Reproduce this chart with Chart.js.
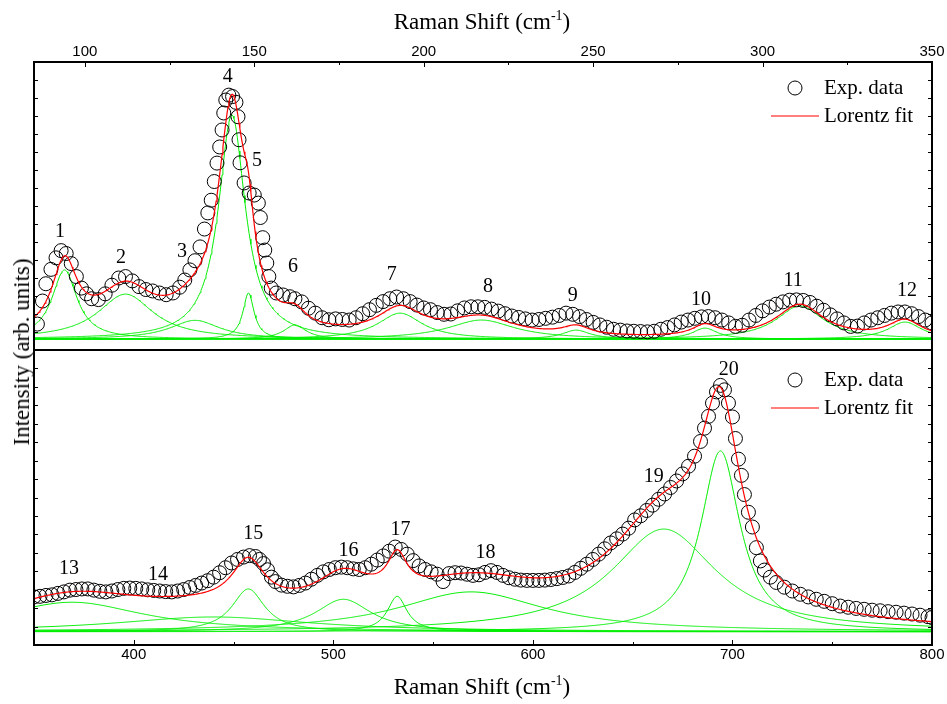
<!DOCTYPE html>
<html>
<head>
<meta charset="utf-8">
<script src="https://cdn.jsdelivr.net/npm/chart.js@4.4.1/dist/chart.umd.min.js"></script>
<style>
  body { margin: 0; background: #fff; }
  #wrap { position: relative; width: 947px; height: 704px; overflow: hidden; font-family: "Liberation Serif", "Times New Roman", serif; color: #000; }
  canvas { position: absolute; left: 0; }
  #topChart { top: 0; }
  #bottomChart { top: 340px; }
  .axis-title { position: absolute; font-size: 23px; white-space: nowrap; transform: translate(-50%, -50%); }
  .axis-title sup { font-size: 14px; vertical-align: 9px; line-height: 0; }
  #yTitle { transform: translate(-50%, -50%) rotate(-90deg); }
</style>
</head>
<body>
<div id="wrap">
  <canvas id="topChart" width="947" height="352"></canvas>
  <canvas id="bottomChart" width="947" height="364"></canvas>
  <div class="axis-title" style="left:482px; top:22px;">Raman Shift (cm<sup>-1</sup>)</div>
  <div class="axis-title" style="left:482px; top:687px;">Raman Shift (cm<sup>-1</sup>)</div>
  <div class="axis-title" id="yTitle" style="left:22px; top:352px;">Intensity (arb. units)</div>
</div>
<script>
// ---- measured spectrum, 85-350 cm-1 ----
const topShift = [86, 87.5, 88.5, 90, 91.5, 93, 94.5, 96, 97.5, 99, 100.5, 102, 104, 106, 108, 110, 112, 114, 116, 118,
  120, 122, 124, 126, 128, 129.5, 131, 132.5, 134, 135.3, 136.3, 137.3, 138.2, 139, 139.8, 140.5, 141, 141.6, 142.5, 143.6,
  144.6, 145.2, 145.5, 145.8, 147, 148.5, 150, 151.2, 151.8, 152.5, 153.1, 153.7, 154.3, 155, 156.5, 158.5, 160.5, 162, 164, 166,
  168, 170, 172, 174, 176, 178, 180, 182, 184, 186, 188, 190, 192, 194, 196, 198, 200, 202, 204, 206,
  208, 210, 212, 214, 216, 218, 220, 222, 224, 226, 228, 230, 232, 234, 236, 238, 240, 242, 244, 246,
  248, 250, 252, 254, 256, 258, 260, 262, 264, 266, 268, 270, 272, 274, 276, 278, 280, 282, 284, 286,
  288, 290, 292, 294, 296, 298, 300, 302, 304, 306, 308, 310, 312, 314, 316, 318, 320, 322, 324, 326,
  328, 330, 332, 334, 336, 338, 340, 342, 344, 346, 348, 350];
const topIntensity = [9, 17, 23, 28, 32, 34.5, 33.5, 30, 25.5, 21.5, 19.5, 17.8, 17.5, 19.5, 22.5, 25, 25.5, 24, 22, 21,
  20.5, 19.8, 19.2, 19.8, 21.8, 24.3, 27.8, 31, 35.8, 42, 47.6, 52, 58.5, 64.9, 70.5, 76.4, 82.3, 86.8, 88.5, 88,
  86, 81, 73, 65, 58, 54.5, 53.8, 51, 46, 39, 34.7, 30.2, 25.5, 21.5, 19.8, 19.1, 18.5, 17.8, 16.7, 14.5,
  12.8, 11.2, 10.5, 10.8, 10.6, 10.4, 11.2, 12.6, 14, 15.5, 16.8, 17.8, 18.4, 17.8, 16.8, 15.6, 14.6, 14, 13, 12.4,
  12.5, 13.6, 14.6, 15, 15, 14.8, 14.2, 13.5, 12.6, 11.8, 11.3, 10.8, 10.4, 10.6, 11, 11.4, 12, 12.8, 12.4, 11.6,
  10.6, 9.6, 8.7, 7.9, 7.2, 6.9, 6.6, 6.5, 6.4, 6.3, 6.5, 7.2, 7.8, 8.7, 9.7, 10.4, 11, 11.5, 11.6, 11.2,
  10.4, 9.4, 8.2, 8.6, 10.4, 12, 13.6, 14.9, 15.9, 16.7, 17.3, 17.4, 17.2, 16.5, 15.2, 13.8, 12.2, 10.8, 9.4, 8.2,
  8.3, 9.4, 10.4, 11.2, 12, 12.8, 13.2, 13.2, 12.6, 11.6, 10.4, 9.4];

// ---- measured spectrum, 350-800 cm-1 ----
const bottomShift = [350, 353, 356, 359, 362, 365, 368, 371, 374, 377, 380, 383, 386, 389, 392, 395, 398, 401, 404, 407,
  410, 413, 416, 419, 422, 425, 428, 431, 434, 437, 440, 443, 446, 449, 452, 455, 458, 461, 463, 465,
  467, 469, 471, 474, 477, 480, 483, 486, 489, 492, 495, 498, 501, 504, 507, 510, 513, 516, 519, 522,
  525, 528, 531, 534, 537, 540, 543, 546, 549, 552, 555, 558, 561, 564, 567, 570, 573, 576, 579, 582,
  585, 588, 591, 594, 597, 600, 603, 606, 609, 612, 615, 618, 621, 624, 627, 630, 633, 636, 639, 642,
  645, 648, 651, 654, 657, 660, 663, 666, 669, 672, 675, 678, 681, 684, 686, 688, 690, 692, 694, 696,
  698, 700, 701.5, 703, 704.5, 706, 708, 710, 712, 714, 716, 719, 722, 726, 730, 734, 738, 742, 746, 750,
  754, 758, 762, 766, 770, 774, 778, 782, 786, 790, 794, 798, 800];
const bottomIntensity = [16.3, 16.5, 16.8, 17, 17.5, 18, 18.6, 18.8, 19, 19, 18.6, 18.2, 18, 18.3, 18.8, 19.2, 19.3, 19.2, 19, 18.7,
  18.5, 18.3, 18.1, 18, 18.3, 18.8, 19.5, 20.2, 21, 21.8, 23, 24.5, 26.2, 27.8, 29, 29.8, 30.3, 30, 29, 27.6,
  25.5, 23, 21.5, 20.3, 19.9, 19.7, 20.2, 21, 22.3, 23.6, 24.8, 25.6, 26.2, 26.4, 26.2, 25.8, 25.6, 26.2, 27.4, 28.8,
  30.2, 31.8, 33.2, 32.4, 30.8, 28.6, 26.8, 25.6, 24.8, 24, 21.5, 24.2, 24.5, 24.4, 24, 23.6, 23.8, 24.6, 25.2, 24.6,
  23.6, 22.8, 22.3, 22, 21.9, 21.9, 21.9, 22, 22.2, 22.5, 22.9, 23.4, 24.6, 26, 27.4, 29, 30.8, 32.6, 34.6, 36,
  37.6, 39.6, 42.4, 43.8, 45.6, 47.4, 49.4, 51.2, 53.4, 55.6, 58, 60.6, 64, 69, 73.5, 77.5, 82, 85.8, 88, 86.5,
  82, 77.3, 70, 63, 57.5, 51, 45, 40, 33, 28.5, 25.4, 23, 21.2, 19.6, 18.3, 17.2, 16.3, 15.5, 14.8, 14,
  13.2, 12.8, 12.4, 12.1, 11.8, 11.6, 11.3, 11.1, 10.8, 10.5, 10.1, 9.6, 9.3];

// ---- Lorentz components: centre (cm-1), FWHM (cm-1), height ----
const topPeakCenter = [94, 112, 132.5, 143.4, 148.3, 162, 193, 217, 245, 283, 311, 342];
const topPeakWidth  = [9, 20, 18, 9.6, 4, 8, 16, 24, 10, 9, 17, 12];
const topPeakHeight = [24, 15.6, 6.5, 77.8, 16, 4.9, 9, 6.6, 3.1, 3.8, 11.5, 5.9];
const topBaseline = 3.8;

const bottomPeakCenter = [369, 440, 457.4, 505, 532, 569, 665.6, 694];
const bottomPeakWidth  = [88, 120, 20, 34, 12, 90, 64, 24];
const bottomPeakHeight = [10, 5, 14.5, 11, 12, 13.5, 34.8, 61.3];
const bottomBaseline = 4.5;

// ---- peak numbers ----
const topPeakLabels = ['1', '2', '3', '4', '5', '6', '7', '8', '9', '10', '11', '12'];
const topLabelShift = [92.7, 110.7, 128.7, 142.2, 150.8, 161.4, 190.6, 219, 244, 281.8, 309, 342.6];
const topLabelLevel = [41, 32, 34, 94.8, 65.6, 28.8, 26, 21.9, 18.8, 17.4, 24, 20.5];
const bottomPeakLabels = ['13', '14', '15', '16', '17', '18', '19', '20'];
const bottomLabelShift = [367.6, 412.2, 459.9, 507.6, 533.6, 576.3, 660.6, 698.2];
const bottomLabelLevel = [25.8, 23.7, 37.6, 31.9, 39, 31.2, 57, 93.2];

function lorentz(x, c, fwhm, h) {
  const d = (x - c) / (fwhm / 2);
  return h / (1 + d * d);
}

function buildPanel(shift, intensity, centers, widths, heights, base, from, to, step) {
  const grid = [];
  for (let x = from; x <= to + 1e-9; x += step) grid.push(+x.toFixed(3));
  const parts = centers.map((c, i) => grid.map(x => ({ x, y: base + lorentz(x, c, widths[i], heights[i]) })));
  const fit = grid.map(x => ({
    x, y: base + centers.reduce((s, c, i) => s + lorentz(x, c, widths[i], heights[i]), 0)
  }));
  const exp = shift.map((x, i) => ({ x, y: intensity[i] }));
  const datasets = [
    { label: 'Lorentz fit', data: fit, showLine: true, borderColor: '#ff0000', borderWidth: 1.2, pointRadius: 0, clip: 0 },
    { label: 'Exp. data', data: exp, showLine: false, borderColor: '#000', backgroundColor: 'rgba(0,0,0,0)', borderWidth: 1, pointRadius: 7, clip: 0 }
  ];
  parts.forEach(p => datasets.push({ data: p, showLine: true, borderColor: '#00ee00', borderWidth: 1, pointRadius: 0, clip: 0 }));
  return datasets;
}

// box around the plot, inward tick marks, legend and peak numbers
const decorations = {
  id: 'decorations',
  afterDatasetsDraw(chart, args, o) {
    const { ctx, chartArea: a } = chart;
    const xs = chart.scales.x, ys = chart.scales.y;
    ctx.save();
    ctx.strokeStyle = '#000';
    ctx.lineWidth = 1;
    xs.ticks.forEach(t => {
      const px = Math.round(xs.getPixelForValue(t.value)) + 0.5;
      const len = t.label ? 5 : 3;
      ctx.beginPath();
      if (o.xTop) { ctx.moveTo(px, a.top); ctx.lineTo(px, a.top + len); }
      else { ctx.moveTo(px, a.bottom); ctx.lineTo(px, a.bottom - len); }
      ctx.stroke();
    });
    ys.ticks.forEach(t => {
      if (t.value <= ys.min || t.value >= ys.max) return;
      const py = Math.round(ys.getPixelForValue(t.value)) + 0.5;
      ctx.beginPath();
      ctx.moveTo(a.left, py); ctx.lineTo(a.left + 4, py);
      ctx.moveTo(a.right, py); ctx.lineTo(a.right - 4, py);
      ctx.stroke();
    });
    ctx.lineWidth = 2;
    ctx.strokeRect(a.left, a.top, a.width, a.height);

    // legend
    const lx = a.right, ly = a.top;
    ctx.lineWidth = 1;
    ctx.beginPath();
    ctx.arc(lx - 137, ly + o.legendY, 7, 0, Math.PI * 2);
    ctx.stroke();
    ctx.strokeStyle = '#ff0000';
    ctx.lineWidth = 1.2;
    ctx.beginPath();
    ctx.moveTo(lx - 161, ly + o.legendY + 28);
    ctx.lineTo(lx - 113, ly + o.legendY + 28);
    ctx.stroke();
    ctx.fillStyle = '#000';
    ctx.font = '21px "Liberation Serif", "Times New Roman", serif';
    ctx.textAlign = 'left';
    ctx.textBaseline = 'middle';
    ctx.fillText('Exp. data', lx - 108, ly + o.legendY);
    ctx.fillText('Lorentz fit', lx - 108, ly + o.legendY + 28);

    // peak numbers
    ctx.font = '20px "Liberation Serif", "Times New Roman", serif';
    ctx.textAlign = 'center';
    o.labels.forEach((s, i) => {
      ctx.fillText(s, xs.getPixelForValue(o.labelShift[i]), ys.getPixelForValue(o.labelLevel[i]));
    });
    ctx.restore();
  }
};

function panelOptions(p) {
  return {
    responsive: false,
    animation: false,
    events: [],
    layout: { autoPadding: false, padding: p.padding },
    plugins: {
      legend: { display: false },
      tooltip: { enabled: false },
      decorations: p.deco
    },
    scales: {
      x: {
        type: 'linear', position: p.xPos, min: p.min, max: p.max,
        grid: { display: false, drawTicks: false },
        border: { display: false },
        ticks: {
          stepSize: p.step, includeBounds: false, autoSkip: false, maxRotation: 0, padding: 1,
          color: '#000', font: { family: '"Liberation Sans", Arial, sans-serif', size: 15 },
          callback: v => (v % p.labelStep === 0 ? String(v) : '')
        },
        afterFit: s => { s.height = p.xHeight; }
      },
      y: {
        type: 'linear', min: 0, max: 100,
        grid: { display: false, drawTicks: false },
        border: { display: false },
        ticks: { display: false, stepSize: 6.25 },
        afterFit: s => { s.width = 34; }
      }
    }
  };
}

new Chart(document.getElementById('topChart'), {
  type: 'scatter',
  data: { datasets: buildPanel(topShift, topIntensity, topPeakCenter, topPeakWidth, topPeakHeight, topBaseline, 85, 350, 0.25) },
  options: panelOptions({
    xPos: 'top', min: 85, max: 350, step: 25, labelStep: 50, xHeight: 62,
    padding: { left: 0, right: 15, top: 0, bottom: 2 },
    deco: { xTop: true, legendY: 26, labels: topPeakLabels, labelShift: topLabelShift, labelLevel: topLabelLevel }
  }),
  plugins: [decorations]
});

new Chart(document.getElementById('bottomChart'), {
  type: 'scatter',
  data: { datasets: buildPanel(bottomShift, bottomIntensity, bottomPeakCenter, bottomPeakWidth, bottomPeakHeight, bottomBaseline, 350, 800, 0.5) },
  options: panelOptions({
    xPos: 'bottom', min: 350, max: 800, step: 50, labelStep: 100, xHeight: 59,
    padding: { left: 0, right: 15, top: 10, bottom: 0 },
    deco: { xTop: false, legendY: 30, labels: bottomPeakLabels, labelShift: bottomLabelShift, labelLevel: bottomLabelLevel }
  }),
  plugins: [decorations]
});
</script>
</body>
</html>
